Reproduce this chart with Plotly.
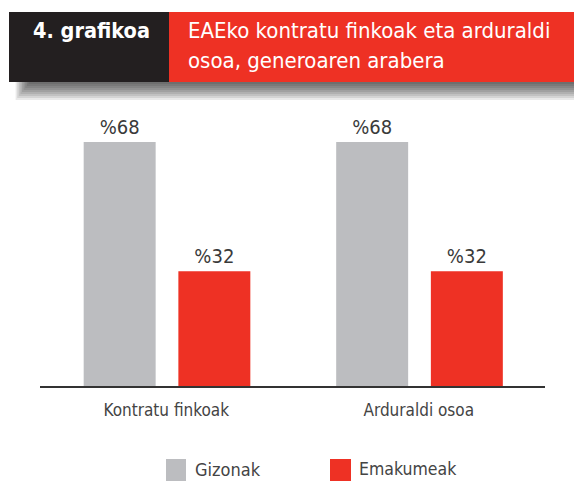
import plotly.graph_objects as go

# ---- data ----
categories = ["Kontratu finkoak", "Arduraldi osoa"]
series_names = ["Gizonak", "Emakumeak"]
gizonak = [68, 68]
emakumeak = [32, 32]
chart_number = "4. grafikoa"
title_lines = ["EAEko kontratu finkoak eta arduraldi", "osoa, generoaren arabera"]

# ---- styles ----
W, H = 574, 481
ML, MR, MT, MB = 40, 29, 99, 95
GRAY = "#BCBDC0"
RED = "#EE3124"
BLACK = "#231F20"
FONT = "Liberation Sans Narrow, DejaVu Sans Condensed, Arial Narrow, sans-serif"
YMAX = 80

PW = W - ML - MR
PH = H - MT - MB


def px(x):
    return (x - ML) / PW


def py(y):
    return (H - MB - y) / PH


fig = go.Figure()
fig.add_trace(go.Bar(
    x=categories, y=gizonak, name=series_names[0],
    marker=dict(color=GRAY, line=dict(width=0)),
    width=0.285, offset=-0.327,
    text=[f"%{v}" for v in gizonak], textposition="outside",
    textfont=dict(family=FONT, size=20, color="#3a3a3a"),
    cliponaxis=False, showlegend=False,
))
fig.add_trace(go.Bar(
    x=categories, y=emakumeak, name=series_names[1],
    marker=dict(color=RED, line=dict(width=0)),
    width=0.285, offset=0.048,
    text=[f"%{v}" for v in emakumeak], textposition="outside",
    textfont=dict(family=FONT, size=20, color="#3a3a3a"),
    cliponaxis=False, showlegend=False,
))

shapes = []
# header shadow (stacked translucent layers)
n = 9
for i in range(n):
    shapes.append(dict(
        type="rect", xref="paper", yref="paper",
        x0=px(30 - 1.6 * (i + 1)), x1=px(W + 5),
        y0=py(82), y1=py(82 + 2 * (i + 1)),
        fillcolor="black", opacity=0.085, line=dict(width=0), layer="above",
    ))
# header boxes
shapes.append(dict(type="rect", xref="paper", yref="paper",
                   x0=px(9), x1=px(169), y0=py(12), y1=py(82),
                   fillcolor=BLACK, line=dict(width=0)))
shapes.append(dict(type="rect", xref="paper", yref="paper",
                   x0=px(169), x1=px(W + 5), y0=py(12), y1=py(82),
                   fillcolor=RED, line=dict(width=0)))
# legend swatches
shapes.append(dict(type="rect", xref="paper", yref="paper",
                   x0=px(166), x1=px(186), y0=py(459), y1=py(481),
                   fillcolor=GRAY, line=dict(width=0)))
shapes.append(dict(type="rect", xref="paper", yref="paper",
                   x0=px(330), x1=px(351), y0=py(459), y1=py(481),
                   fillcolor=RED, line=dict(width=0)))

annotations = [
    dict(text=f"<b>{chart_number}</b>", xref="paper", yref="paper",
         x=px(31), y=py(31), xanchor="left", yanchor="middle", showarrow=False,
         font=dict(family=FONT, size=21.5, color="white")),
    dict(text=title_lines[0], xref="paper", yref="paper",
         x=px(186), y=py(31), xanchor="left", yanchor="middle", showarrow=False,
         font=dict(family=FONT, size=22, color="white")),
    dict(text=title_lines[1], xref="paper", yref="paper",
         x=px(186), y=py(60), xanchor="left", yanchor="middle", showarrow=False,
         font=dict(family=FONT, size=22, color="white")),
    dict(text=series_names[0], xref="paper", yref="paper",
         x=px(193), y=py(469), xanchor="left", yanchor="middle", showarrow=False,
         font=dict(family=FONT, size=18, color="#444444")),
    dict(text=series_names[1], xref="paper", yref="paper",
         x=px(357), y=py(469), xanchor="left", yanchor="middle", showarrow=False,
         font=dict(family=FONT, size=17.5, color="#444444")),
]

fig.update_layout(
    width=W, height=H,
    margin=dict(l=ML, r=MR, t=MT, b=MB, pad=0),
    paper_bgcolor="white", plot_bgcolor="white",
    barmode="overlay",
    shapes=shapes, annotations=annotations,
    showlegend=False,
    xaxis=dict(range=[-0.5, 1.5], showline=True, linecolor="#333333", linewidth=1.5,
               showgrid=False, zeroline=False, ticks="outside", ticklen=8,
               tickcolor="rgba(0,0,0,0)",
               tickfont=dict(family=FONT, size=17, color="#444444")),
    yaxis=dict(range=[0, YMAX], visible=False, showgrid=False, zeroline=False),
)

fig.write_html("out.html", config={"displayModeBar": False},
               post_script="document.body.style.margin='0';")
